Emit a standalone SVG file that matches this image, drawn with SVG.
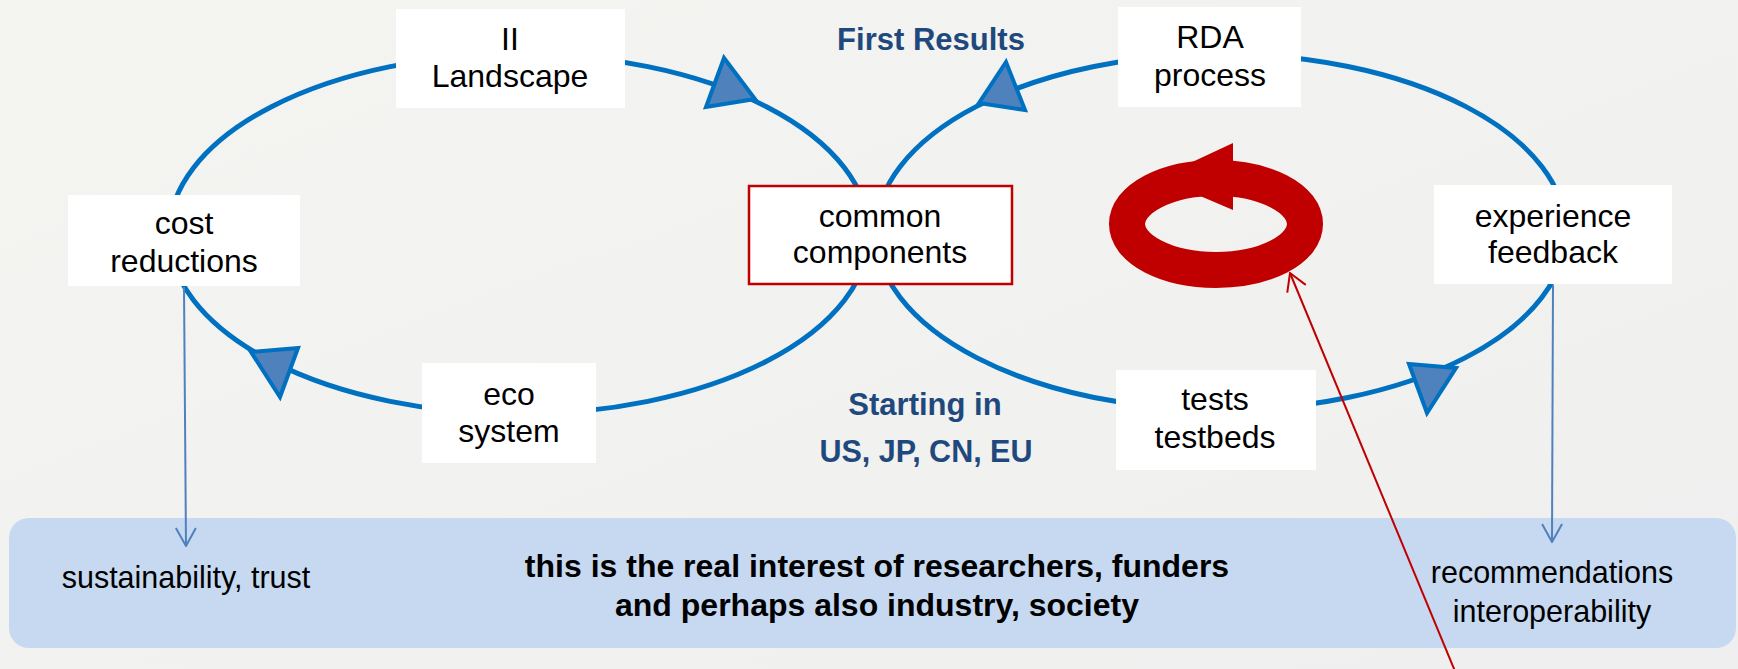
<svg xmlns="http://www.w3.org/2000/svg" width="1738" height="669" viewBox="0 0 1738 669">
<style>
.box{fill:#ffffff;}
.t{font-family:"Liberation Sans",Arial,sans-serif;font-size:32px;fill:#000;text-anchor:middle;}
.s{font-family:"Liberation Sans",Arial,sans-serif;font-size:30.5px;fill:#000;text-anchor:middle;}
.b{font-family:"Liberation Sans",Arial,sans-serif;font-weight:bold;font-size:32px;fill:#000;text-anchor:middle;}
.lab{font-family:"Liberation Sans",Arial,sans-serif;font-weight:bold;font-size:31px;fill:#1f497d;text-anchor:middle;}
.loop{fill:none;stroke:#0070c0;stroke-width:5;}
.tri{fill:#4f81bd;stroke:#0070c0;stroke-width:4;stroke-linejoin:miter;}
.thin{fill:none;stroke:#4f81bd;stroke-width:2;}
.red{fill:none;stroke:#c00000;stroke-width:2;}
</style>
<defs>
<linearGradient id="bg" x1="0" y1="0" x2="1" y2="1">
<stop offset="0" stop-color="#f4f4f1"/>
<stop offset="1" stop-color="#efefef"/>
</linearGradient>
<marker id="ab" markerUnits="userSpaceOnUse" viewBox="0 0 20 22" refX="19" refY="11" markerWidth="20" markerHeight="22" orient="auto">
<path d="M1,1 L19,11 L1,21" fill="none" stroke="#4f81bd" stroke-width="2"/>
</marker>
<marker id="ar" markerUnits="userSpaceOnUse" viewBox="0 0 20 22" refX="19" refY="11" markerWidth="20" markerHeight="22" orient="auto">
<path d="M2,1 L19,11 L2,21" fill="none" stroke="#c00000" stroke-width="2"/>
</marker>
</defs>
<rect x="0" y="0" width="1738" height="669" fill="url(#bg)"/>

<g id="band">
<rect x="9" y="518" width="1727" height="130" rx="20" ry="20" fill="#c6d9f0"/>
<text class="s" x="186" y="588">sustainability, trust</text>
<text class="b" x="877" y="577">this is the real interest of researchers, funders</text>
<text class="b" x="877" y="616">and perhaps also industry, society</text>
<text class="s" x="1552" y="583">recommendations</text>
<text class="s" x="1552" y="622">interoperability</text>
</g>

<g id="loops">
<ellipse class="loop" cx="519" cy="234" rx="350" ry="180"/>
<ellipse class="loop" cx="1221" cy="232" rx="345" ry="178"/>
<polygon class="tri" points="724,58 706,107 755,99"/>
<polygon class="tri" points="251,352 298,348 280,397"/>
<polygon class="tri" points="1006,62 979,103 1025,110"/>
<polygon class="tri" points="1409,364 1456,368 1427,413"/>
</g>

<g id="labels">
<text class="lab" x="931" y="50" font-size="31.5">First Results</text>
<text class="lab" x="925" y="415">Starting in</text>
<text class="lab" x="926" y="462" style="font-size:30.5px">US, JP, CN, EU</text>
</g>

<g id="cycle-icon">
<ellipse cx="1216" cy="224" rx="89" ry="46" fill="none" stroke="#c00000" stroke-width="36"/>
<polygon points="1233,143 1158,178 1233,210" fill="#c00000"/>
</g>

<g id="node-landscape">
<rect class="box" x="396" y="9" width="229" height="99"/>
<text class="t" x="510" y="50">II</text>
<text class="t" x="510" y="87">Landscape</text>
</g>

<g id="node-rda">
<rect class="box" x="1118" y="7" width="183" height="100"/>
<text class="t" x="1210" y="48">RDA</text>
<text class="t" x="1210" y="86">process</text>
</g>

<g id="node-cost">
<rect class="box" x="68" y="195" width="232" height="91"/>
<text class="t" x="184" y="234">cost</text>
<text class="t" x="184" y="272">reductions</text>
</g>

<g id="node-common">
<rect x="749" y="186" width="263" height="98" fill="#ffffff" stroke="#c00000" stroke-width="2.5"/>
<text class="t" x="880" y="227">common</text>
<text class="t" x="880" y="263">components</text>
</g>

<g id="node-experience">
<rect class="box" x="1434" y="185" width="238" height="99"/>
<text class="t" x="1553" y="227">experience</text>
<text class="t" x="1553" y="263">feedback</text>
</g>

<g id="node-eco">
<rect class="box" x="422" y="363" width="174" height="100"/>
<text class="t" x="509" y="405">eco</text>
<text class="t" x="509" y="442">system</text>
</g>

<g id="node-tests">
<rect class="box" x="1116" y="370" width="200" height="100"/>
<text class="t" x="1215" y="410">tests</text>
<text class="t" x="1215" y="448">testbeds</text>
</g>

<g id="connectors">
<line class="thin" x1="184" y1="287" x2="186" y2="546" marker-end="url(#ab)"/>
<line class="thin" x1="1553" y1="285" x2="1552" y2="542" marker-end="url(#ab)"/>
<line class="red" x1="1457" y1="676" x2="1290" y2="273" marker-end="url(#ar)"/>
</g>
</svg>
